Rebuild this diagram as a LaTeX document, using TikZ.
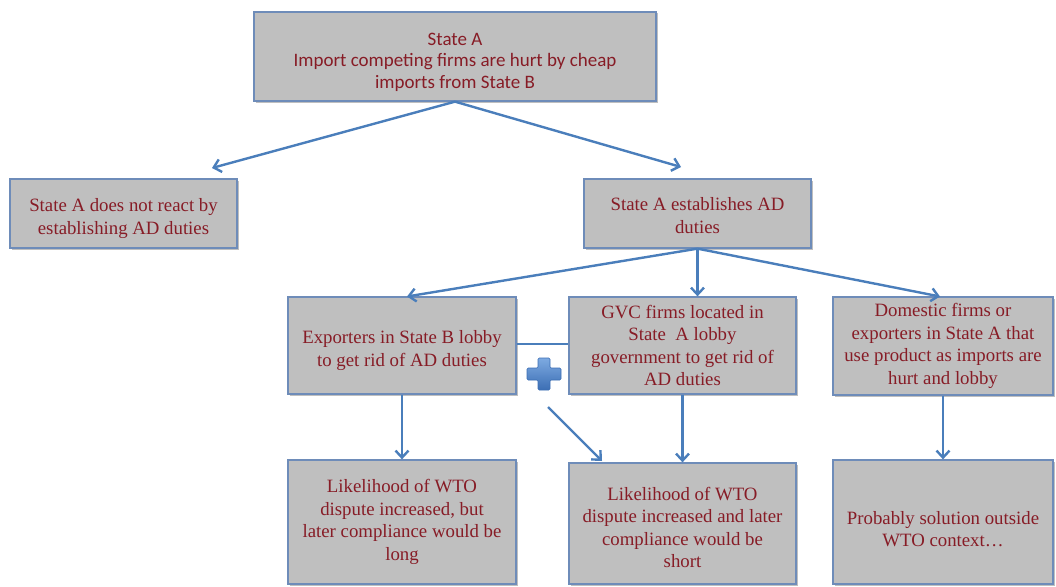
\documentclass[tikz,border=0pt]{standalone}
\usepackage{fontspec}
\setmainfont{Liberation Serif}
\newfontfamily\calib{Carlito}
\usetikzlibrary{arrows.meta,shadows}
\definecolor{boxfill}{RGB}{191,191,191}
\definecolor{boxborder}{RGB}{110,140,185}
\definecolor{txt}{RGB}{135,28,38}
\definecolor{arrowblue}{RGB}{74,126,187}
\definecolor{plustop}{RGB}{125,170,225}
\definecolor{plusbot}{RGB}{60,110,180}
\newcommand{\dn}[1]{\rule{0pt}{#1}}
\tikzset{
  box/.style={draw=boxborder, line width=1.3pt, fill=boxfill, text=txt,
    align=center, inner sep=0pt,
    font=\fontsize{18.8}{22.5}\selectfont,
    drop shadow={shadow xshift=1.5pt, shadow yshift=-1.5pt, opacity=0.25, fill=black}},
  arr/.style={draw=arrowblue, line width=2.4pt,
    -{Straight Barb[length=7pt,width=13pt,line width=2.4pt]}},
  link/.style={draw=arrowblue, line width=2.4pt}
}
\begin{document}
\begin{tikzpicture}[x=1pt,y=-1pt]
\useasboundingbox (0,0) rectangle (1056,586);
% nodes
\node[box, minimum width=402pt, minimum height=89pt,
  font=\calib\fontsize{19}{21.5}\selectfont] (top) at (455,56.5)
  {\dn{24pt}State A\\Import competing firms are hurt by cheap\\imports from State B};
\node[box, minimum width=227pt, minimum height=69pt] (noreact) at (123.5,213.5)
  {\dn{23pt}State A does not react by\\establishing AD duties};
\node[box, minimum width=227pt, minimum height=69pt] (estab) at (697.5,213.5)
  {\dn{17pt}State A establishes AD\\duties};
\node[box, minimum width=228pt, minimum height=97pt] (exp) at (402,345.5)
  {\dn{23pt}Exporters in State B lobby\\to get rid of AD duties};
\node[box, minimum width=227pt, minimum height=97pt] (gvc) at (682.5,345.5)
  {GVC firms located in\\State\enspace A lobby\\government to get rid of\\AD duties};
\node[box, minimum width=220pt, minimum height=98pt] (dom) at (943,346)
  {Domestic firms or\\exporters in State A that\\use product as imports are\\hurt and lobby};
\node[box, minimum width=228pt, minimum height=124pt] (b1) at (402,522)
  {Likelihood of WTO\\dispute increased, but\\later compliance would be\\long};
\node[box, minimum width=227pt, minimum height=121pt] (b2) at (682.5,523.5)
  {\dn{21pt}Likelihood of WTO\\dispute increased and later\\compliance would be\\short};
\node[box, minimum width=220pt, minimum height=124pt] (b3) at (943,522)
  {\dn{27pt}Probably solution outside\\WTO context…};
% free ends
\coordinate (t1) at (212,168);
\coordinate (t2) at (681,167);
\coordinate (e1) at (407,296.5);
\coordinate (e3) at (940,296.5);
\coordinate (d1) at (548,407);
\coordinate (d2) at (602,461);
% connectors
\draw[arr] (top.south) -- (t1);
\draw[arr] (top.south) -- (t2);
\draw[arr] (estab.south) -- (e1);
\draw[arr] (estab.south) -- (estab.south |- gvc.north);
\draw[arr] (estab.south) -- (e3);
\draw[arr] (exp.south) -- (b1.north);
\draw[arr] (gvc.south) -- (b2.north);
\draw[arr] (dom.south) -- (b3.north);
\draw[arr] (d1) -- (d2);
\draw[link] (exp.east |- 0,344) -- (gvc.west |- 0,344);
% plus sign
\shade[top color=plustop, bottom color=plusbot, draw=plusbot, line width=0.6pt, rounded corners=1.2pt]
  (538,358) -- (550,358) -- (550,368) -- (561,368) -- (561,380) -- (550,380) --
  (550,390) -- (538,390) -- (538,380) -- (527,380) -- (527,368) -- (538,368) -- cycle;
\end{tikzpicture}
\end{document}
